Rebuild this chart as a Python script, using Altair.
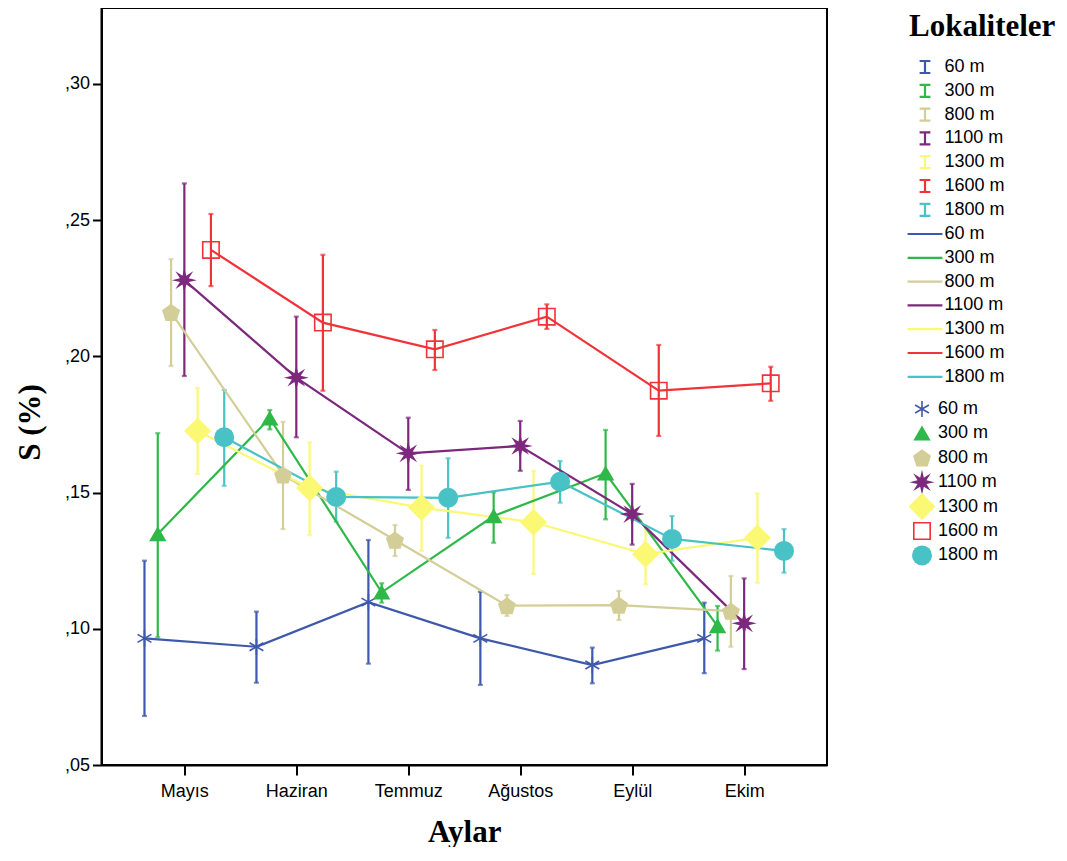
import json
import math
import altair as alt
import pandas as pd

months = ["Mayıs", "Haziran", "Temmuz", "Ağustos", "Eylül", "Ekim"]
series = ["60 m", "300 m", "800 m", "1100 m", "1300 m", "1600 m", "1800 m"]
colors = ["#3E58AC", "#2EB848", "#D3CE97", "#7C287D", "#FBF873", "#EF3338", "#48C2C5"]

mean_60 = [0.0965, 0.0934, 0.1098, 0.0965, 0.0867, 0.0965]
low_60 = [0.0680, 0.0802, 0.0872, 0.0794, 0.0800, 0.0837]
high_60 = [0.1250, 0.1063, 0.1326, 0.1136, 0.0931, 0.1096]

mean_300 = [0.1348, 0.1773, 0.1134, 0.1414, 0.1571, 0.1010]
low_300 = [0.0969, 0.1732, 0.1096, 0.1316, 0.1402, 0.0920]
high_300 = [0.1718, 0.1803, 0.1167, 0.1501, 0.1730, 0.1084]

mean_800 = [0.2162, 0.1565, 0.1326, 0.1085, 0.1087, 0.1065]
low_800 = [0.1965, 0.1366, 0.1267, 0.1047, 0.1032, 0.0934]
high_800 = [0.2357, 0.1760, 0.1381, 0.1124, 0.1139, 0.1194]

mean_1100 = [0.2280, 0.1922, 0.1644, 0.1671, 0.1421, 0.1020]
low_1100 = [0.1928, 0.1703, 0.1510, 0.1580, 0.1309, 0.0852]
high_1100 = [0.2635, 0.2146, 0.1775, 0.1763, 0.1532, 0.1185]

mean_1300 = [0.1726, 0.1517, 0.1445, 0.1391, 0.1274, 0.1334]
low_1300 = [0.1568, 0.1344, 0.1286, 0.1201, 0.1163, 0.1169]
high_1300 = [0.1884, 0.1684, 0.1599, 0.1580, 0.1381, 0.1497]

mean_1600 = [0.2391, 0.2124, 0.2026, 0.2146, 0.1874, 0.1901]
low_1600 = [0.2258, 0.1874, 0.1950, 0.2101, 0.1708, 0.1837]
high_1600 = [0.2523, 0.2373, 0.2097, 0.2191, 0.2042, 0.1962]

mean_1800 = [0.1703, 0.1484, 0.1481, 0.1540, 0.1330, 0.1286]
low_1800 = [0.1525, 0.1393, 0.1334, 0.1463, 0.1250, 0.1206]
high_1800 = [0.1877, 0.1577, 0.1626, 0.1616, 0.1414, 0.1366]

means = [mean_60, mean_300, mean_800, mean_1100, mean_1300, mean_1600, mean_1800]
lows = [low_60, low_300, low_800, low_1100, low_1300, low_1600, low_1800]
highs = [high_60, high_300, high_800, high_1100, high_1300, high_1600, high_1800]

DODGE = 0.1187

rows = []
for si, s in enumerate(series):
    for mi, m in enumerate(months):
        rows.append({
            "series": s, "month": m, "order": si,
            "x": mi + (si - 3) * DODGE,
            "mean": means[si][mi], "lo": lows[si][mi], "hi": highs[si][mi],
        })
df = pd.DataFrame(rows)


def poly(pts):
    return "M" + "L".join(f"{x:.3f},{y:.3f}" for x, y in pts) + "Z"


def asterisk(L=0.8, w=0.08):
    parts = []
    for deg in (90, 30, -30):
        t = math.radians(deg)
        c, s = math.cos(t), math.sin(t)
        dx, dy = L * c, L * s
        nx, ny = -w * s, w * c
        parts.append(poly([(dx + nx, dy + ny), (dx - nx, dy - ny),
                           (-dx - nx, -dy - ny), (-dx + nx, -dy + ny)]))
    return "".join(parts)


def star(n=8, ro=1.25, ri=0.48):
    pts = []
    for k in range(2 * n):
        a = math.radians(-90 + k * 180 / n)
        r = ro if k % 2 == 0 else ri
        pts.append((r * math.cos(a), r * math.sin(a)))
    return poly(pts)


def pentagon(r=0.95):
    pts = []
    for k in range(5):
        a = math.radians(-90 + 72 * k)
        pts.append((r * math.cos(a), r * math.sin(a) + 0.1))
    return poly(pts)


triangle = "M0,-0.78L0.87,0.72L-0.87,0.72Z"
diamond = "M0,-1.35L1.35,0L0,1.35L-1.35,0Z"
hollow_square = "M-0.9,-0.9L0.9,-0.9L0.9,0.9L-0.9,0.9ZM-0.74,-0.74L-0.74,0.74L0.74,0.74L0.74,-0.74Z"
shapes = [asterisk(), triangle, pentagon(), star(), diamond, hollow_square, "circle"]

xlabel_expr = json.dumps(months, ensure_ascii=False) + "[round(datum.value)]"

xscale = alt.Scale(domain=[-0.74, 5.74], nice=False, zero=False)
yscale = alt.Scale(domain=[0.05, 0.3279], nice=False, zero=False)
xaxis = alt.Axis(values=list(range(len(months))), labelExpr=xlabel_expr, title="Aylar",
                 titleX=362.7, titleY=67, titleBaseline="middle", titleAlign="center",
                 tickSize=10, labelPadding=7)
yaxis = alt.Axis(values=[0.05, 0.10, 0.15, 0.20, 0.25, 0.30],
                 labelExpr="replace(format(datum.value, '.2f'), '0.', ',')",
                 title="S (%)", titleX=-71, titleY=414, titleBaseline="middle",
                 titleAlign="center", tickSize=9, labelPadding=3)

LEG_X = 807.5
label_common = dict(labelFont="Liberation Sans", labelFontSize=18, labelColor="black",
                    padding=0, direction="vertical")

cscale = alt.Scale(domain=series, range=colors)

eb_leg = alt.Legend(title="Lokaliteler", titleFont="Liberation Serif", titleFontSize=31,
                    titleFontWeight="bold", titleColor="black", titlePadding=15,
                    orient="none", legendX=LEG_X, legendY=4,
                    symbolType="M-0.9,-1H0.9M0,-1V1M-0.9,1H0.9", symbolSize=144,
                    symbolStrokeWidth=2.2, symbolOffset=7, labelOffset=10.5, rowPadding=1.8,
                    **label_common)
line_leg = alt.Legend(title=None, orient="none", legendX=LEG_X, legendY=217,
                      symbolType="M-2.9,0H2.9", symbolSize=144, symbolStrokeWidth=2.2,
                      symbolOffset=7, labelOffset=10.5, rowPadding=5.8, **label_common)
pt_leg = alt.Legend(title=None, orient="none", legendX=LEG_X, legendY=391,
                    symbolSize=400, symbolStrokeWidth=0, symbolOffset=3, labelOffset=6,
                    gridAlign="all", rowPadding=-3.6, symbolOpacity=1, **label_common)

base = alt.Chart(df)

eb = base.mark_rule(strokeWidth=2.2).encode(
    x=alt.X("x:Q", scale=xscale, axis=xaxis),
    y=alt.Y("lo:Q", scale=yscale, axis=yaxis),
    y2="hi:Q",
    color=alt.Color("series:N", scale=cscale, legend=eb_leg, sort=series),
)
cap_lo = base.mark_tick(orient="horizontal", size=5, thickness=2.2).encode(
    x=alt.X("x:Q", scale=xscale), y=alt.Y("lo:Q", scale=yscale),
    color=alt.Color("series:N", scale=cscale, legend=None),
)
cap_hi = base.mark_tick(orient="horizontal", size=5, thickness=2.2).encode(
    x=alt.X("x:Q", scale=xscale), y=alt.Y("hi:Q", scale=yscale),
    color=alt.Color("series:N", scale=cscale, legend=None),
)
line = base.mark_line(strokeWidth=2.2).encode(
    x=alt.X("x:Q", scale=xscale), y=alt.Y("mean:Q", scale=yscale),
    color=alt.Color("series:N", scale=cscale, legend=line_leg, sort=series),
    order="x:Q",
)
pts = base.mark_point(filled=True, size=400, opacity=1).encode(
    x=alt.X("x:Q", scale=xscale), y=alt.Y("mean:Q", scale=yscale),
    color=alt.Color("series:N", scale=cscale, legend=pt_leg, sort=series),
    shape=alt.Shape("series:N", scale=alt.Scale(domain=series, range=shapes),
                    legend=pt_leg, sort=series),
)

chart = (
    alt.layer(eb, cap_lo, cap_hi, line, pts)
    .resolve_scale(color="independent", shape="independent")
    .properties(width=725.5, height=757,
                autosize=alt.AutoSizeParams(type="none"),
                padding={"left": 93.5, "top": 0, "right": 232, "bottom": 82})
    .configure_view(stroke="black", strokeWidth=2)
    .configure_axis(grid=False, domainColor="black", domainWidth=2, tickColor="black",
                    tickWidth=2, labelFont="Liberation Sans", labelFontSize=18,
                    labelColor="black", titleFont="Liberation Serif", titleFontSize=31,
                    titleFontWeight="bold", titleColor="black")
)

chart.save("out.html", embed_options={"renderer": "svg", "actions": False})
